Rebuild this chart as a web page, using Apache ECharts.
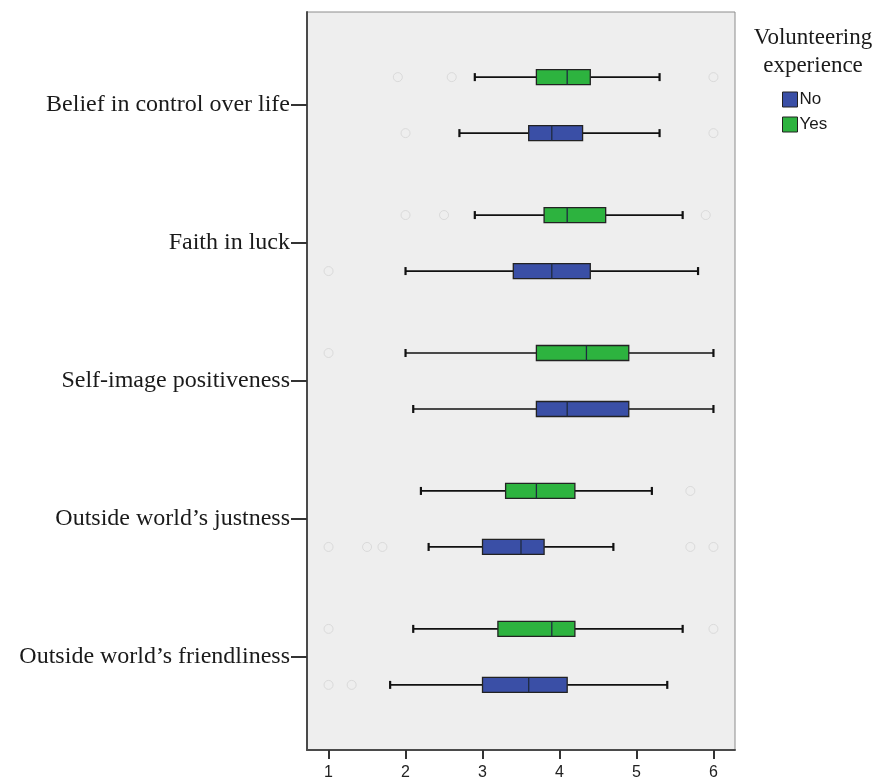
<!DOCTYPE html>
<html>
<head>
<meta charset="utf-8">
<script src="https://cdn.jsdelivr.net/npm/echarts@6/dist/echarts.min.js"></script>
<style>
  html, body { margin: 0; padding: 0; background: #ffffff; }
  #chart { width: 877px; height: 782px; }
</style>
</head>
<body>
<div id="chart"></div>
<script>
// ---- data ----
const categories = [
  'Belief in control over life',
  'Faith in luck',
  'Self-image positiveness',
  'Outside world\u2019s justness',
  'Outside world\u2019s friendliness'
];
const groupNames = ['No', 'Yes'];
const xTicks = [1, 2, 3, 4, 5, 6];
// [min, Q1, median, Q3, max] per category
const noStats = [
  [2.7, 3.6, 3.9, 4.3, 5.3],
  [2.0, 3.4, 3.9, 4.4, 5.8],
  [2.1, 3.7, 4.1, 4.9, 6.0],
  [2.3, 3.0, 3.5, 3.8, 4.7],
  [1.8, 3.0, 3.6, 4.1, 5.4]
];
const yesStats = [
  [2.9, 3.7, 4.1, 4.4, 5.3],
  [2.9, 3.8, 4.1, 4.6, 5.6],
  [2.0, 3.7, 4.35, 4.9, 6.0],
  [2.2, 3.3, 3.7, 4.2, 5.2],
  [2.1, 3.2, 3.9, 4.2, 5.6]
];
// outliers: [value, category index]
const noOutliers = [
  [2.0, 0], [6.0, 0],
  [1.0, 1],
  [1.0, 3], [1.5, 3], [1.7, 3], [5.7, 3], [6.0, 3],
  [1.0, 4], [1.3, 4]
];
const yesOutliers = [
  [1.9, 0], [2.6, 0], [6.0, 0],
  [2.0, 1], [2.5, 1], [5.9, 1],
  [1.0, 2],
  [5.7, 3],
  [1.0, 4], [6.0, 4]
];

// ---- styles ----
const COLORS = { No: '#3a4fa6', Yes: '#2db33f' };
const OFFSETS = { No: 28, Yes: -28 };
const SERIF = '"Liberation Serif", "Times New Roman", serif';
const SANS = '"Liberation Sans", Arial, sans-serif';

function boxSeries(name, stats) {
  const color = COLORS[name];
  const off = OFFSETS[name];
  return {
    name: name,
    type: 'custom',
    itemStyle: { color: color },
    data: stats.map((s, i) => [i].concat(s)),
    encode: { y: 0, x: [1, 2, 3, 4, 5] },
    z: 3,
    renderItem: function (params, api) {
      const ci = api.value(0);
      const p = k => api.coord([api.value(k), ci]);
      const base = p(1);
      const y = base[1] + off;
      const xMin = base[0], xQ1 = p(2)[0], xMed = p(3)[0], xQ3 = p(4)[0], xMax = p(5)[0];
      const h = 7.5, cap = 4;
      const ln = { stroke: '#111', lineWidth: 1.7 };
      return {
        type: 'group',
        children: [
          { type: 'line', shape: { x1: xMin, y1: y, x2: xQ1, y2: y }, style: ln },
          { type: 'line', shape: { x1: xQ3, y1: y, x2: xMax, y2: y }, style: ln },
          { type: 'line', shape: { x1: xMin, y1: y - cap, x2: xMin, y2: y + cap }, style: { stroke: '#111', lineWidth: 2.2 } },
          { type: 'line', shape: { x1: xMax, y1: y - cap, x2: xMax, y2: y + cap }, style: { stroke: '#111', lineWidth: 2.2 } },
          { type: 'rect', shape: { x: xQ1, y: y - h, width: xQ3 - xQ1, height: 2 * h },
            style: { fill: color, stroke: '#222', lineWidth: 1.3 } },
          { type: 'line', shape: { x1: xMed, y1: y - h, x2: xMed, y2: y + h }, style: { stroke: '#1f2a40', lineWidth: 1.3 } }
        ]
      };
    }
  };
}

function outlierSeries(name, pts) {
  return {
    name: name + ' outliers',
    type: 'scatter',
    data: pts,
    symbol: 'circle',
    symbolSize: 9,
    symbolOffset: [0, OFFSETS[name]],
    silent: true,
    z: 2,
    itemStyle: { color: 'rgba(0,0,0,0)', borderColor: '#d4d4d4', borderWidth: 1 }
  };
}

const chart = echarts.init(document.getElementById('chart'), null, { renderer: 'canvas' });
chart.setOption({
  animation: false,
  backgroundColor: '#ffffff',
  grid: {
    left: 307, top: 12, width: 428, height: 738,
    show: true, backgroundColor: '#eeeeee', borderColor: '#8c8c8c', borderWidth: 1,
    containLabel: false
  },
  xAxis: {
    type: 'value', min: 0.72, max: 6.28,
    splitLine: { show: false },
    axisLine: { show: true, onZero: false, lineStyle: { color: '#4a4a4a', width: 2 } },
    axisTick: { show: true, length: 9, customValues: xTicks, lineStyle: { color: '#333', width: 2 } },
    axisLabel: { customValues: xTicks, margin: 15, fontFamily: SANS, fontSize: 16, color: '#222' }
  },
  yAxis: {
    type: 'value', inverse: true, min: -0.675, max: 4.675,
    splitLine: { show: false },
    axisLine: { show: true, onZero: false, lineStyle: { color: '#4a4a4a', width: 2 } },
    axisTick: { show: true, length: 16, customValues: categories.map((c, i) => i), lineStyle: { color: '#333', width: 2 } },
    axisLabel: {
      customValues: categories.map((c, i) => i),
      formatter: v => categories[Math.round(v)] || '',
      margin: 17, fontFamily: SERIF, fontSize: 24, color: '#1a1a1a'
    }
  },
  legend: {
    orient: 'vertical', left: 782, top: 91, padding: 0,
    itemWidth: 15, itemHeight: 15, itemGap: 8,
    icon: 'rect',
    textStyle: { fontFamily: SANS, fontSize: 17, color: '#1a1a1a', padding: [0, 0, 0, -3] },
    data: groupNames.map(n => ({ name: n, itemStyle: { color: COLORS[n], borderColor: '#222', borderWidth: 1 } }))
  },
  graphic: [{
    type: 'text', x: 813, y: 24, silent: true,
    style: {
      text: 'Volunteering\nexperience', align: 'center', verticalAlign: 'top',
      fontFamily: SERIF, fontSize: 23, lineHeight: 28, fill: '#1a1a1a'
    }
  }],
  series: [
    outlierSeries('No', noOutliers),
    outlierSeries('Yes', yesOutliers),
    boxSeries('No', noStats),
    boxSeries('Yes', yesStats)
  ]
});
</script>
</body>
</html>
